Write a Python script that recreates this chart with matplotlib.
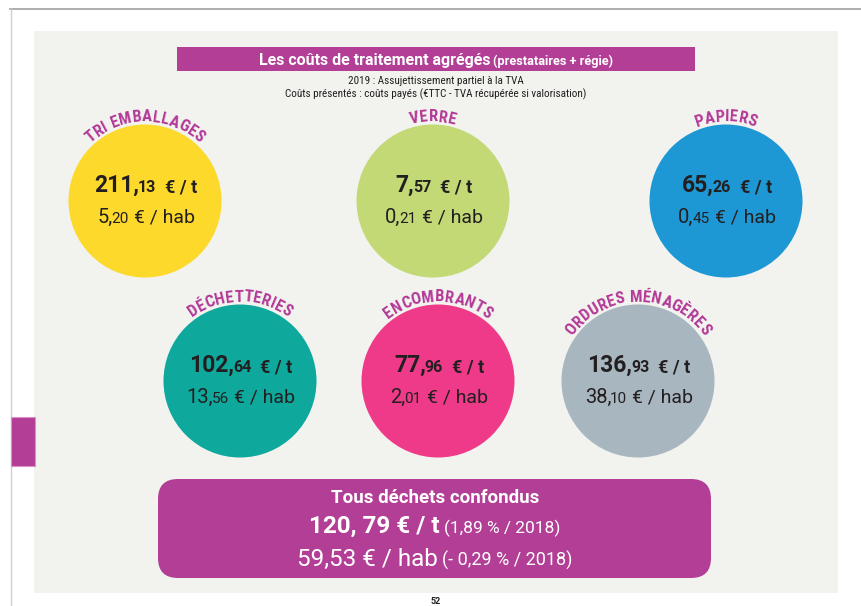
import matplotlib
matplotlib.use("Agg")
import matplotlib.pyplot as plt
from matplotlib.patches import Circle, Rectangle, FancyBboxPatch
from matplotlib import font_manager
import numpy as np

# ---------------- data ----------------
categories = ["TRI EMBALLAGES", "VERRE", "PAPIERS",
              "DÉCHETTERIES", "ENCOMBRANTS", "ORDURES MÉNAGÈRES"]
cost_per_tonne = [211.13, 7.57, 65.26, 102.64, 77.96, 136.93]
cost_per_hab = [5.20, 0.21, 0.45, 13.56, 2.01, 38.10]
circle_colors = ["#fdd92b", "#c2d976", "#1e98d4", "#0ea99c", "#ee3a89", "#a8b7bf"]

total_per_tonne = 120.79
total_change_tonne = 1.89
total_per_hab = 59.53
total_change_hab = -0.29
ref_year = 2018

title_main = "Les coûts de traitement agrégés"
title_note = "(prestataires + régie)"
subtitle1 = "2019 : Assujettissement partiel à la TVA"
subtitle2 = "Coûts présentés : coûts payés (€TTC - TVA récupérée si valorisation)"
total_label = "Tous déchets confondus"
page_number = "52"

# ---------------- style ----------------
MAGENTA = "#b23e96"
LABEL_COL = "#b33a98"
DARK = "#231f20"
PANEL = "#f2f2ee"
W, H = 861, 606

names = {f.name for f in font_manager.fontManager.ttflist}
MAIN = "Roboto" if "Roboto" in names else "DejaVu Sans"
COND = next((n for n in ["Roboto Condensed", "Liberation Sans Narrow"] if n in names), None)

fig = plt.figure(figsize=(W / 100, H / 100), dpi=100)
fig.patch.set_facecolor("white")
ax = fig.add_axes([0, 0, 1, 1])
ax.set_xlim(0, W)
ax.set_ylim(H, 0)
ax.axis("off")
renderer = fig.canvas.get_renderer()


def text_width(s, **kw):
    """Advance width in pixels (including spaces), via bar trick."""
    t1 = ax.text(0, 0, "|" + s + "|", **kw)
    t2 = ax.text(0, 0, "||", **kw)
    w = t1.get_window_extent(renderer).width - t2.get_window_extent(renderer).width
    t1.remove(); t2.remove()
    return w


def rich(x, y, runs, join=-1.2):
    """Draw runs of (text, props) centered at x, baseline y; runs joined on
    extents, leading spaces of a run kept as gaps."""
    objs = []
    total = 0
    for s, kw in runs:
        lead = len(s) - len(s.lstrip(" "))
        gap = text_width(" " * lead, **kw) if lead else join
        t = ax.text(0, y, s.strip(" "), ha="left", va="baseline", **kw)
        w = t.get_window_extent(renderer).width
        objs.append((t, gap if objs else 0, w))
        total += (gap if len(objs) > 1 else 0) + w
    x0 = x - total / 2
    for t, gap, w in objs:
        x0 += gap
        t.set_x(x0)
        x0 += w


def arc_text(cx, cy, R, s, center_deg=90, track=1.0, **kw):
    widths = [text_width(c, **kw) * track for c in s]
    total = sum(widths)
    th0 = np.deg2rad(center_deg) + total / (2 * R)
    cum = 0
    for c, w in zip(s, widths):
        th = th0 - (cum + w / 2) / R
        cum += w
        if c == " ":
            continue
        ax.text(cx + R * np.cos(th), cy - R * np.sin(th), c,
                rotation=np.rad2deg(th) - 90, rotation_mode="anchor",
                ha="center", va="baseline", **kw)


def split_val(v):
    a, b = f"{v:.2f}".split(".")
    return a, b


# ---------------- page frame ----------------
ax.add_patch(Rectangle((34, 31), 804, 562, fc=PANEL, ec="none", zorder=0))
ax.plot([10, W], [9, 9], color="#a8a8a8", lw=1.3, zorder=1)
ax.plot([10.5, 10.5], [9, H], color="#cfcfcf", lw=1.0, zorder=1)
ax.add_patch(Rectangle((11, 417), 24, 49, fc=MAGENTA, ec="#d990cc", lw=0.8, zorder=2))
ax.text(436, 601, page_number, ha="center", va="center", fontsize=6.5,
        fontweight="bold", family=MAIN, color=DARK)

# ---------------- title ----------------
ax.add_patch(Rectangle((177, 47), 518, 24, fc=MAGENTA, ec="none", zorder=2))
rich(436, 65.5, [(title_main, dict(fontsize=11.5, fontweight="bold", family=MAIN, color="white", zorder=3)),
                 (" " + title_note, dict(fontsize=9.2, fontweight="bold", family=MAIN, color="white", zorder=3))])

sub_family = COND if COND else MAIN
base = text_width(subtitle2, fontsize=10, family=sub_family)
sub_size = 10 * 298 / base
ax.text(436, 84, subtitle1, ha="center", va="baseline", fontsize=sub_size,
        family=sub_family, color=DARK)
ax.text(436, 97, subtitle2, ha="center", va="baseline", fontsize=sub_size,
        family=sub_family, color=DARK)

# ---------------- circles ----------------
centers = [(145, 201), (433, 201), (726, 201), (240, 381), (438, 381), (638, 381)]
RADIUS = 76.5
lab_family = COND if COND else MAIN
lab_size = 12 if COND else 11.3
lab_track = 1.0 if COND else 0.87

for cat, vt, vh, col, (cx, cy) in zip(categories, cost_per_tonne, cost_per_hab,
                                      circle_colors, centers):
    ax.add_patch(Circle((cx, cy), RADIUS, fc=col, ec="none", zorder=2))
    arc_text(cx, cy, RADIUS + 3, cat, track=lab_track, fontsize=lab_size,
             fontweight="bold", family=lab_family, color=LABEL_COL, zorder=4)
    ti, td = split_val(vt)
    hi, hd = split_val(vh)
    rich(cx + 1, cy - 9, [
        (ti + ",", dict(fontsize=16.5, fontweight="bold", family=MAIN, color=DARK, zorder=3)),
        (td, dict(fontsize=11.5, fontweight="bold", family=MAIN, color=DARK, zorder=3)),
        ("  € / t", dict(fontsize=13, fontweight="bold", family=MAIN, color=DARK, zorder=3)),
    ])
    rich(cx + 1, cy + 22, [
        (hi + ",", dict(fontsize=14.5, family=MAIN, color=DARK, zorder=3)),
        (hd, dict(fontsize=11, family=MAIN, color=DARK, zorder=3)),
        (" € / hab", dict(fontsize=14, family=MAIN, color=DARK, zorder=3)),
    ])

# ---------------- total box ----------------
ax.add_patch(FancyBboxPatch((158, 479), 553, 99,
                            boxstyle="round,pad=0,rounding_size=20",
                            fc=MAGENTA, ec="none", zorder=2))
ax.text(435, 503, total_label, ha="center", va="baseline", fontsize=13.5,
        fontweight="bold", family=MAIN, color="white", zorder=3)
ti, td = split_val(total_per_tonne)
ci, cd = split_val(abs(total_change_tonne))
rich(435, 533, [
    (f"{ti}, {td} € / t", dict(fontsize=17.5, fontweight="bold", family=MAIN, color="white", zorder=3)),
    (f" ({ci},{cd} % / {ref_year})", dict(fontsize=12.5, family=MAIN, color="white", zorder=3)),
])
hi, hd = split_val(total_per_hab)
sign = "- " if total_change_hab < 0 else ""
ci, cd = split_val(abs(total_change_hab))
rich(435, 566, [
    (f"{hi},{hd} € / hab", dict(fontsize=17.5, family=MAIN, color="white", zorder=3)),
    (f" ({sign}{ci},{cd} % / {ref_year})", dict(fontsize=13, family=MAIN, color="white", zorder=3)),
])

fig.savefig("out.png", dpi=100)
